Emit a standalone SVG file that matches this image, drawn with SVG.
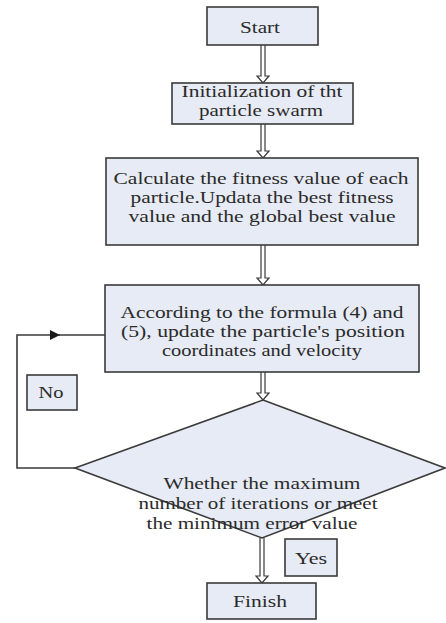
<svg xmlns="http://www.w3.org/2000/svg" width="446" height="623" viewBox="0 0 446 623">
<style>
.box{fill:#e7ebf5;stroke:#3a3a3a;stroke-width:1.6}
.t{font-family:"Liberation Serif","DejaVu Serif","Times New Roman",serif;font-size:17px;fill:#2a2a2a;text-anchor:middle}
.dbl{fill:#ffffff;stroke:#3a3a3a;stroke-width:1.2}
.ln{fill:none;stroke:#3a3a3a;stroke-width:1.6}
</style>
<defs>
<marker id="ah" viewBox="0 0 10 10" refX="10" refY="5" markerWidth="10" markerHeight="10" markerUnits="userSpaceOnUse" orient="auto">
<path d="M0,0 L10,5 L0,10 Z" fill="#1a1a1a"/>
</marker>
</defs>
<rect width="446" height="623" fill="#ffffff"/>
<g id="connectors">
<path class="dbl" d="M261,45 V76 H257 L263,83 L269,76 H265 V45"/>
<path class="dbl" d="M261,124 V151 H257 L263,158 L269,151 H265 V124"/>
<path class="dbl" d="M261,245 V278 H257 L263,285 L269,278 H265 V245"/>
<path class="dbl" d="M261,372 V393 H257 L263,400 L269,393 H265 V372"/>
<path class="dbl" d="M260,538 V576 H256 L262,583 L268,576 H264 V538"/>
<path class="ln" d="M75,468 H17 V335 H60" marker-end="url(#ah)"/>
<path class="ln" d="M58,335 H106"/>
</g>
<g id="start">
<rect class="box" x="207" y="7" width="111" height="38"/>
<text class="t" x="260" y="33" textLength="40" lengthAdjust="spacingAndGlyphs">Start</text>
</g>
<g id="init">
<rect class="box" x="172" y="83" width="181" height="41"/>
<text class="t" x="262" y="97" textLength="161" lengthAdjust="spacingAndGlyphs">Initialization of tht</text>
<text class="t" x="261" y="116" textLength="124" lengthAdjust="spacingAndGlyphs">particle swarm</text>
</g>
<g id="calc">
<rect class="box" x="106" y="158" width="312" height="87"/>
<text class="t" x="261" y="184" textLength="295" lengthAdjust="spacingAndGlyphs">Calculate the fitness value of each</text>
<text class="t" x="262" y="203" textLength="263" lengthAdjust="spacingAndGlyphs">particle.Updata the best fitness</text>
<text class="t" x="262" y="222" textLength="267" lengthAdjust="spacingAndGlyphs">value and the global best value</text>
</g>
<g id="update">
<rect class="box" x="105" y="285" width="314" height="87"/>
<text class="t" x="262" y="318" textLength="283" lengthAdjust="spacingAndGlyphs">According to the formula (4) and</text>
<text class="t" x="263" y="337" textLength="284" lengthAdjust="spacingAndGlyphs">(5), update the particle's position</text>
<text class="t" x="262" y="356" textLength="200" lengthAdjust="spacingAndGlyphs">coordinates and velocity</text>
</g>
<g id="decision">
<polygon class="box" points="263,400 445,468 262,538 75,468"/>
<text class="t" x="262" y="489" textLength="197" lengthAdjust="spacingAndGlyphs">Whether the maximum</text>
<text class="t" x="258" y="509" textLength="239" lengthAdjust="spacingAndGlyphs">number of iterations or meet</text>
<text class="t" x="252" y="529" textLength="211" lengthAdjust="spacingAndGlyphs">the minimum error value</text>
</g>
<g id="no">
<rect class="box" x="27" y="375" width="50" height="35"/>
<text class="t" x="51" y="398" textLength="25" lengthAdjust="spacingAndGlyphs">No</text>
</g>
<g id="yes">
<rect class="box" x="285" y="539" width="52" height="37"/>
<text class="t" x="311" y="564" textLength="32" lengthAdjust="spacingAndGlyphs">Yes</text>
</g>
<g id="finish">
<rect class="box" x="207" y="583" width="109" height="36"/>
<text class="t" x="260" y="607" textLength="54" lengthAdjust="spacingAndGlyphs">Finish</text>
</g>
</svg>
